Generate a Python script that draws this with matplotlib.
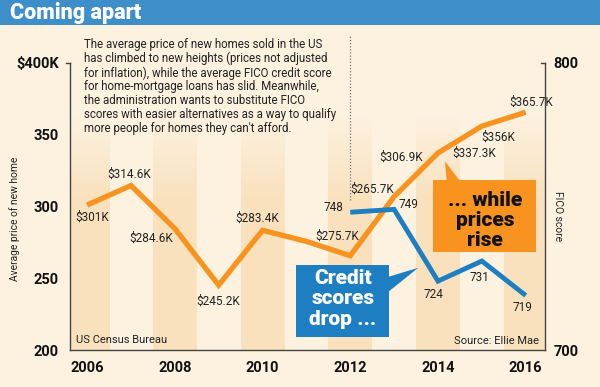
import numpy as np
import matplotlib
matplotlib.use("Agg")
import matplotlib.pyplot as plt
from matplotlib.patches import Rectangle, Polygon

# --------------------------
# DATA
# --------------------------
price_years = [2006, 2007, 2008, 2009, 2010, 2011, 2012, 2013, 2014, 2015, 2016]
price_k = [301, 314.6, 284.6, 245.2, 283.4, 275.7, 265.7, 306.9, 337.3, 356, 365.7]
price_labels = ['$301K', '$314.6K', '$284.6K', '$245.2K', '$283.4K', '$275.7K',
                '$265.7K', '$306.9K', '$337.3K', '$356K', '$365.7K']

fico_years = [2012, 2013, 2014, 2015, 2016]
fico = [748, 749, 724, 731, 719]

price_ticks = [200, 250, 300, 350, 400]
price_ticklabels = ['200', '250', '300', '350', '$400K']
fico_ticks = [700, 800]
year_ticks = [2006, 2008, 2010, 2012, 2014, 2016]

# label offsets (points) -- where each value label sits next to its point
price_offsets = [(4, -9), (-1, 8), (-17, -7), (0, -11.5), (-4, 8.5), (22, 3.5),
                 (16, 48), (5, 28), (26, 0), (12, -8), (4, 7)]
fico_offsets = [(-12, 3.5), (10, 3.5), (-3, -9.5), (-2, -12), (-2, -8.5)]

# --------------------------
# COLORS / FONTS
# --------------------------
BG = '#fdf1df'
BAND = (0.98, 0.885, 0.745)
ORANGE = '#f7931e'
BLUE = '#1d7fc1'
TITLE_BLUE = '#3e8ec9'
DARK = '#222222'
FONT = 'Roboto'

fig = plt.figure(figsize=(6, 3.87), dpi=100)
fig.patch.set_facecolor(BG)

# title bar
fig.patches.append(Rectangle((0, 1 - 25 / 387), 1, 25 / 387, transform=fig.transFigure,
                             facecolor=TITLE_BLUE, edgecolor='none', zorder=0))
fig.text(0.017, 1 - 13 / 387, 'Coming apart', color='white', fontsize=15.5,
         fontweight='heavy', family=FONT, va='center', ha='left')

# intro paragraph
intro = ("The average price of new homes sold in the US\n"
         "has climbed to new heights (prices not adjusted\n"
         "for inflation), while the average FICO credit score\n"
         "for home-mortgage loans has slid. Meanwhile,\n"
         "the administration wants to substitute FICO\n"
         "scores with easier alternatives as a way to qualify\n"
         "more people for homes they can't afford.")
fig.text(84 / 600, 1 - 38 / 387, intro, fontsize=8.3, family=FONT,
         color=DARK, va='top', ha='left', linespacing=1.08)

# --------------------------
# AXES
# --------------------------
ax = fig.add_axes([70 / 600, 1 - 350 / 387, 475 / 600, 287 / 387])
ax.set_facecolor('none')

# shaded year bands with faded tops
grad = np.linspace(0, 1, 100)
alpha = np.clip((362 - (200 + 200 * grad)) / (362 - 305), 0, 1)
band_img = np.zeros((100, 1, 4))
band_img[:, 0, 0] = BAND[0]
band_img[:, 0, 1] = BAND[1]
band_img[:, 0, 2] = BAND[2]
band_img[:, 0, 3] = alpha
for yr in year_ticks:
    ax.imshow(band_img, extent=[yr - 0.5, yr + 0.5, 200, 400], origin='lower',
              aspect='auto', zorder=0, interpolation='bilinear')
ax.set_xlim(2005.61, 2016.44)
ax.set_ylim(200, 400)

ax.plot(price_years, price_k, color=ORANGE, lw=3.8, solid_joinstyle='miter',
        solid_capstyle='butt', zorder=3)
for x, y, lab, off in zip(price_years, price_k, price_labels, price_offsets):
    ax.annotate(lab, (x, y), xytext=off, textcoords='offset points', ha='center',
                va='center', fontsize=8.5, family=FONT, color=DARK, zorder=5)

# dotted divider at 2012
ax.plot([2012, 2012], [304.5, 419.5], color='#777777', lw=0.9, ls=(0, (1, 1.5)),
        clip_on=False, zorder=2)

for s in ['top', 'right']:
    ax.spines[s].set_visible(False)
for s in ['left', 'bottom']:
    ax.spines[s].set_color('#444444')
    ax.spines[s].set_linewidth(1.0)

ax.set_yticks(price_ticks)
ax.set_yticklabels(price_ticklabels)
ax.set_xticks(year_ticks)
ax.set_xticklabels([str(y) for y in year_ticks])
ax.tick_params(axis='both', length=0)
ax.tick_params(axis='y', pad=8)
ax.tick_params(axis='x', pad=8)
for t in ax.get_yticklabels() + ax.get_xticklabels():
    t.set_fontfamily(FONT)
    t.set_fontweight('bold')
    t.set_fontsize(10.5)
    t.set_color('#111111')
ax.plot([-0.008, 0], [1, 1], transform=ax.transAxes, color='#444444', lw=1.0,
        clip_on=False)
ax.set_ylabel('Average price of new home', fontsize=7.4, family=FONT, color=DARK,
              va='center')
ax.yaxis.set_label_coords(-0.116, 0.456)

ax.text(0.013, 0.035, 'US Census Bureau', transform=ax.transAxes, fontsize=8,
        family=FONT, color=DARK, va='center', ha='left')
ax.text(0.987, 0.03, 'Source: Ellie Mae', transform=ax.transAxes, fontsize=8,
        family=FONT, color=DARK, va='center', ha='right')

# --------------------------
# FICO AXIS
# --------------------------
ax2 = ax.twinx()
ax2.set_xlim(2005.61, 2016.44)
ax2.set_ylim(700, 800)
ax2.plot(fico_years, fico, color=BLUE, lw=3.5, solid_joinstyle='miter',
         solid_capstyle='butt', zorder=3)
for x, y, off in zip(fico_years, fico, fico_offsets):
    ax2.annotate(str(y), (x, y), xytext=off, textcoords='offset points', ha='center',
                 va='center', fontsize=8.5, family=FONT, color=DARK)
for s in ['top', 'left', 'bottom']:
    ax2.spines[s].set_visible(False)
ax2.spines['right'].set_color('#444444')
ax2.spines['right'].set_linewidth(1.0)
ax2.set_yticks(fico_ticks)
ax2.set_yticklabels([str(v) for v in fico_ticks])
ax2.tick_params(axis='y', length=0, pad=6)
for t in ax2.get_yticklabels():
    t.set_fontfamily(FONT)
    t.set_fontweight('bold')
    t.set_fontsize(10.5)
    t.set_color('#111111')
ax2.plot([0.992, 1], [1, 1], transform=ax2.transAxes, color='#444444', lw=1.0,
         clip_on=False)
ax2.set_ylabel('FICO score', fontsize=7.4, family=FONT, color=DARK, rotation=270,
               va='center')
ax2.yaxis.set_label_coords(1.027, 0.467)

# --------------------------
# CALLOUTS
# --------------------------
tr = ax.transData
ax2.add_patch(Polygon([[2014.16, 331.5], [2014.2, 317], [2014.52, 317]], closed=True,
                      transform=tr, facecolor=ORANGE, edgecolor='none', zorder=6))
ax2.add_patch(Rectangle((2013.89, 268.5), 2.35, 49.7, transform=tr, facecolor=ORANGE,
                        edgecolor='none', zorder=6))
for txt, yv in zip(['... while', 'prices', 'rise'], [304.5, 290.5, 276.5]):
    ax2.text(2015.07, yv, txt, transform=tr, ha='center', va='center', fontsize=15,
             fontweight='heavy', family=FONT, color='#111111', zorder=7)

ax2.add_patch(Polygon([[2013.55, 257.3], [2012.87, 251], [2012.87, 240.6]], closed=True,
                      transform=tr, facecolor=BLUE, edgecolor='none', zorder=6))
ax2.add_patch(Rectangle((2010.77, 209.1), 2.12, 50.3, transform=tr, facecolor=BLUE,
                        edgecolor='none', zorder=6))
for txt, yv in zip(['Credit', 'scores', 'drop ...'], [249.7, 235.7, 221.5]):
    ax2.text(2011.83, yv, txt, transform=tr, ha='center', va='center', fontsize=15,
             fontweight='heavy', family=FONT, color='white', zorder=7)

fig.savefig('out.png', dpi=100, facecolor=BG)
